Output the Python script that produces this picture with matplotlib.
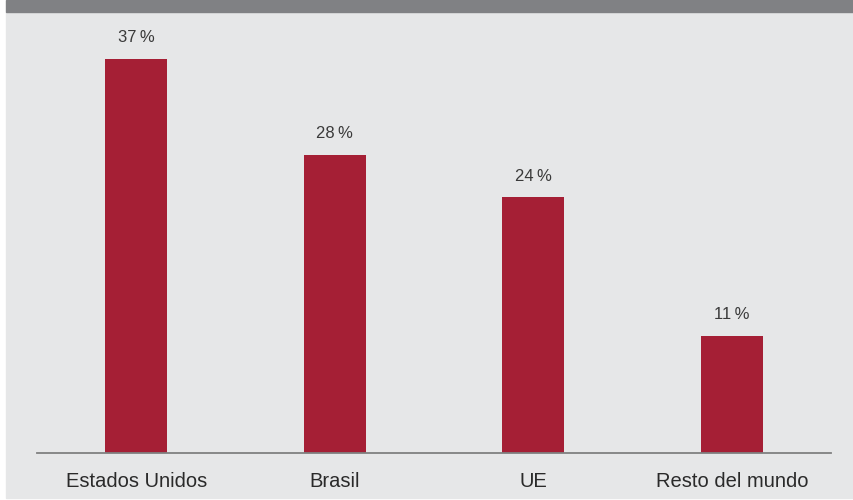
import matplotlib.pyplot as plt
from matplotlib.patches import Rectangle

categories = ["Estados Unidos", "Brasil", "UE", "Resto del mundo"]
shares = [37, 28, 24, 11]

W, H = 854, 500
fig = plt.figure(figsize=(W / 100, H / 100), dpi=100)
fig.patch.set_facecolor("white")

# light panel and dark header band
fig.add_artist(Rectangle((6 / W, 2 / H), 1, 486 / H, transform=fig.transFigure,
                         color="#e6e7e8", zorder=0))
fig.add_artist(Rectangle((6 / W, 488 / H), 1, 12 / H, transform=fig.transFigure,
                         color="#808184", zorder=0))

ax = fig.add_axes([37 / W, 47 / H, 794 / W, 441 / H])
ax.set_facecolor("none")
x = range(len(categories))
bars = ax.bar(x, shares, width=0.31, color="#a51f35", zorder=2)
ax.set_xlim(-0.5, 3.5)
ax.set_ylim(0, 441 / 10.66)

for xi, v in zip(x, shares):
    ax.text(xi, v + 1.25, f"{v}\u2009%", ha="center", va="bottom",
            fontsize=12, color="#3a3a3a", family="Liberation Sans")

ax.set_xticks(list(x))
ax.set_xticklabels(categories, fontsize=14.5, color="#2a2a2a",
                   family="Liberation Sans")
ax.tick_params(axis="x", length=0, pad=14)
ax.set_yticks([])
for s in ["top", "right", "left"]:
    ax.spines[s].set_visible(False)
ax.spines["bottom"].set_color("#808080")
ax.spines["bottom"].set_linewidth(1.3)

fig.savefig("out.png", dpi=100)
